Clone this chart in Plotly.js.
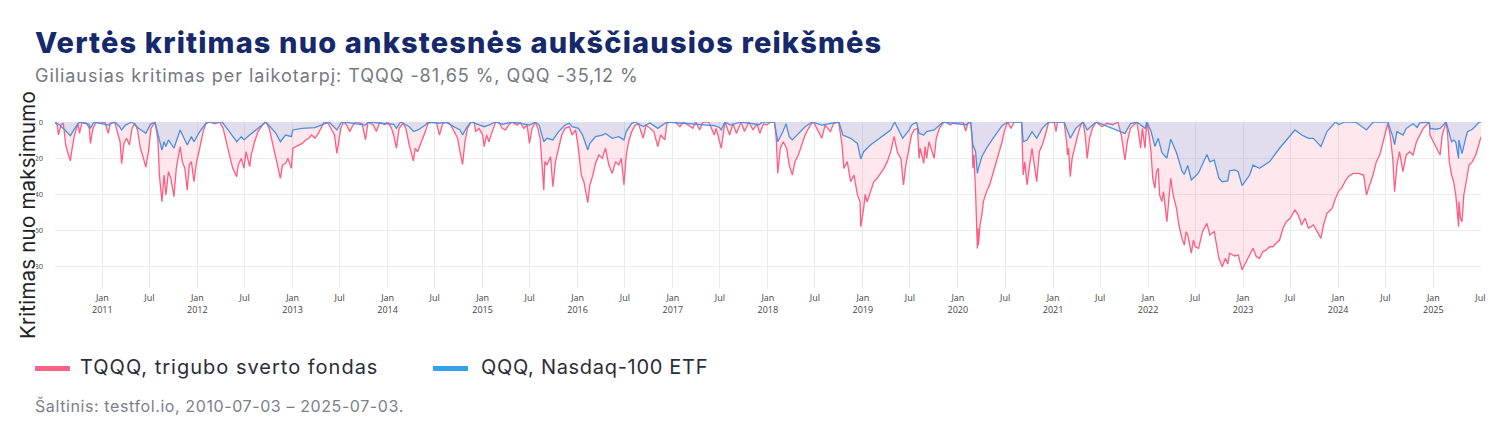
<!DOCTYPE html>
<html>
<head>
<meta charset="utf-8">
<script src="https://cdn.plot.ly/plotly-3.0.1.min.js"></script>
<style>
  body { margin: 0; background: #fff; font-family: Inter, 'Noto Sans', sans-serif; }
  #wrap { position: relative; width: 1500px; height: 438px; overflow: hidden; }
  .title { position: absolute; left: 35px; top: 25px; font-size: 29px; font-weight: 800; letter-spacing: 1.15px; color: #15296b; white-space: nowrap; }
  .subtitle { position: absolute; left: 35px; top: 65px; font-size: 18px; letter-spacing: 0.95px; color: #737884; white-space: nowrap; }
  .ytitle { position: absolute; left: 27px; top: 215px; transform: translate(-50%, -50%) rotate(-90deg); font-size: 20.5px; letter-spacing: 0.2px; color: #222; white-space: nowrap; }
  #chart { position: absolute; left: 36px; top: 110px; width: 1464px; height: 220px; }
  .legend { position: absolute; top: 355px; left: 35px; font-size: 20px; color: #2b2d3a; white-space: nowrap; }
  .legend span.item { position: absolute; top: 0; }
  .legend i { position: absolute; top: 11px; width: 35px; height: 5px; }
  .legend b { position: absolute; font-weight: 400; top: 0; }
  .source { position: absolute; left: 35px; top: 396px; font-size: 16px; letter-spacing: 0.6px; color: #7b808c; white-space: nowrap; }
</style>
</head>
<body>
<div id="wrap">
  <div class="title">Vertės kritimas nuo ankstesnės aukščiausios reikšmės</div>
  <div class="subtitle">Giliausias kritimas per laikotarpį: TQQQ -81,65 %, QQQ -35,12 %</div>
  <div class="ytitle">Kritimas nuo maksimumo</div>
  <div id="chart"></div>
  <div class="legend">
    <span class="item" style="left:0"><i style="left:0;background:#ff6384"></i><b style="left:45px;letter-spacing:1px">TQQQ, trigubo sverto fondas</b></span>
    <span class="item" style="left:398px"><i style="left:0;background:#36a2eb"></i><b style="left:48px;letter-spacing:0.7px">QQQ, Nasdaq-100 ETF</b></span>
  </div>
  <div class="source">Šaltinis: testfol.io, 2010-07-03 – 2025-07-03.</div>
</div>
<script>
// drawdown from previous high, %
const tqqqPoints = [
  ['2010-07-03', 0], ['2010-07-12', -2], ['2010-07-16', -7.2], ['2010-07-26', -1.7], ['2010-08-04', -0.7],
  ['2010-08-13', -12.7], ['2010-08-20', -16.4], ['2010-08-31', -21.5], ['2010-09-07', -14.5], ['2010-09-16', -7.2],
  ['2010-09-29', -0.7], ['2010-10-05', -6.3], ['2010-10-15', 0], ['2010-11-01', -0.7], ['2010-11-12', -3.5],
  ['2010-11-16', -11.8], ['2010-11-26', -3.5], ['2010-12-08', 0], ['2010-12-21', -0.7], ['2011-01-10', 0],
  ['2011-01-24', -6.3], ['2011-01-31', -0.7], ['2011-02-17', 0], ['2011-03-02', -7.2], ['2011-03-10', -10.9],
  ['2011-03-16', -23], ['2011-03-25', -11.8], ['2011-04-04', -9], ['2011-04-15', -12.7], ['2011-04-25', -3.5],
  ['2011-05-06', -0.7], ['2011-05-16', -4.4], ['2011-05-27', -14.5], ['2011-06-08', -20.1], ['2011-06-17', -25],
  ['2011-06-27', -16.4], ['2011-07-07', -3.5], ['2011-07-22', 0], ['2011-08-02', -9], ['2011-08-08', -29.3],
  ['2011-08-18', -44], ['2011-08-26', -29.3], ['2011-09-02', -40.3], ['2011-09-12', -27.4], ['2011-09-21', -31.1],
  ['2011-10-03', -41.3], ['2011-10-12', -25.6], ['2011-10-27', -13.6], ['2011-11-04', -21.9], ['2011-11-14', -25.6],
  ['2011-11-23', -37.6], ['2011-12-01', -23.8], ['2011-12-09', -21.9], ['2011-12-19', -33], ['2011-12-28', -22.8],
  ['2012-01-10', -14.5], ['2012-01-23', -5.3], ['2012-02-03', -0.7], ['2012-02-17', 0], ['2012-03-08', -1],
  ['2012-03-26', 0], ['2012-04-09', -3.5], ['2012-04-20', -10.9], ['2012-05-03', -18.2], ['2012-05-16', -25.6],
  ['2012-05-31', -30.2], ['2012-06-06', -23.8], ['2012-06-18', -20.1], ['2012-06-28', -25.6], ['2012-07-06', -16.4],
  ['2012-07-20', -24.7], ['2012-07-26', -18.2], ['2012-08-08', -10.9], ['2012-08-21', -5.3], ['2012-09-07', -1.7],
  ['2012-09-20', 0], ['2012-10-03', -3.5], ['2012-10-15', -10.9], ['2012-10-29', -20.1], ['2012-11-15', -31.1],
  ['2012-11-23', -23.8], ['2012-12-05', -22.8], ['2012-12-14', -20.1], ['2012-12-27', -25.6], ['2013-01-02', -14.5],
  ['2013-01-14', -13.6], ['2013-01-25', -12.7], ['2013-02-07', -11.8], ['2013-02-20', -9.9], ['2013-03-04', -9],
  ['2013-03-15', -7.2], ['2013-03-28', -9], ['2013-04-10', -6.3], ['2013-04-19', -3.5], ['2013-05-02', 0],
  ['2013-05-17', -0.7], ['2013-05-29', -3.5], ['2013-06-11', -7.2], ['2013-06-20', -17.3], ['2013-06-26', -10.9],
  ['2013-07-05', -3.5], ['2013-07-16', 0], ['2013-07-27', -1.5], ['2013-08-09', -5.3], ['2013-08-21', -1.7],
  ['2013-09-02', 0], ['2013-09-25', -1], ['2013-10-08', -9.9], ['2013-10-18', 0], ['2013-11-07', -1.7],
  ['2013-11-19', -5.3], ['2013-12-02', 0], ['2013-12-20', -1.5], ['2014-01-01', 0], ['2014-01-16', -3.5],
  ['2014-01-24', -7.2], ['2014-02-04', -14.5], ['2014-02-14', -3.5], ['2014-03-01', -0.7], ['2014-03-12', -3.5],
  ['2014-03-25', -12.7], ['2014-04-10', -21.5], ['2014-04-17', -14.5], ['2014-04-26', -16.4], ['2014-05-07', -12.7],
  ['2014-05-16', -9], ['2014-05-26', -5.3], ['2014-06-05', -0.7], ['2014-06-24', 0], ['2014-07-07', 0],
  ['2014-07-13', -3.5], ['2014-07-19', -7.2], ['2014-08-01', -0.7], ['2014-08-20', 0], ['2014-09-01', -1.7],
  ['2014-09-15', -5.3], ['2014-09-27', -9], ['2014-10-06', -16.4], ['2014-10-16', -23.4], ['2014-10-25', -10.9],
  ['2014-11-04', -3.5], ['2014-11-17', 0], ['2014-11-30', 0], ['2014-12-05', -5.3], ['2014-12-18', -3.5],
  ['2015-01-01', -7.2], ['2015-01-07', -13.6], ['2015-01-16', -7.2], ['2015-01-25', -10.9], ['2015-02-07', -5.3],
  ['2015-02-20', 0], ['2015-03-04', 0], ['2015-03-17', -3.5], ['2015-03-30', -4.4], ['2015-04-11', -1.7],
  ['2015-04-24', 0], ['2015-05-13', -1.7], ['2015-05-25', 0], ['2015-06-08', -3.5], ['2015-06-21', -1.7],
  ['2015-06-30', -11.8], ['2015-07-10', -3.5], ['2015-07-22', 0], ['2015-08-01', -3.5], ['2015-08-10', -9],
  ['2015-08-24', -37.6], ['2015-08-28', -21.9], ['2015-09-05', -23.8], ['2015-09-19', -19.2], ['2015-09-28', -35.7],
  ['2015-10-08', -21.9], ['2015-10-20', -14.5], ['2015-11-01', -7.2], ['2015-11-14', -3.5], ['2015-11-30', -2.6],
  ['2015-12-11', -7.2], ['2015-12-24', -4.4], ['2016-01-04', -14.5], ['2016-01-15', -29.3], ['2016-01-25', -33],
  ['2016-02-09', -44.6], ['2016-02-17', -34.8], ['2016-02-27', -30.2], ['2016-03-10', -22.8], ['2016-03-23', -18.2],
  ['2016-04-05', -20.1], ['2016-04-17', -14.5], ['2016-04-30', -23.8], ['2016-05-13', -28.4], ['2016-05-26', -21.9],
  ['2016-06-07', -23.8], ['2016-06-17', -20.1], ['2016-06-27', -34.8], ['2016-07-06', -18.2], ['2016-07-15', -10.9],
  ['2016-07-27', -5.3], ['2016-08-09', -1.7], ['2016-08-22', -1], ['2016-08-28', -3.5], ['2016-09-09', -9],
  ['2016-09-20', -1.7], ['2016-10-05', -3.5], ['2016-10-20', -5.3], ['2016-11-04', -13.6], ['2016-11-15', -7.2],
  ['2016-12-01', -9.9], ['2016-12-09', -0.7], ['2016-12-22', 0], ['2017-01-10', 0], ['2017-01-28', -2.6],
  ['2017-02-10', 0], ['2017-03-19', -3.5], ['2017-03-30', 0], ['2017-04-14', -4.4], ['2017-04-26', 0],
  ['2017-05-19', 0], ['2017-06-09', -7.2], ['2017-06-16', -3.5], ['2017-06-29', -10], ['2017-07-06', -14.5],
  ['2017-07-20', 0], ['2017-08-07', -7.2], ['2017-08-20', -1], ['2017-09-02', -6.3], ['2017-09-20', 0],
  ['2017-10-03', -5.3], ['2017-10-20', 0], ['2017-11-05', -4.4], ['2017-11-20', -1], ['2017-12-01', -6.3],
  ['2017-12-15', -1], ['2017-12-28', -1.7], ['2018-01-10', 0], ['2018-01-26', 0], ['2018-02-02', -9],
  ['2018-02-08', -28.4], ['2018-02-18', -14.5], ['2018-03-01', -10.9], ['2018-03-14', -14.5], ['2018-03-24', -23.8],
  ['2018-04-05', -29.3], ['2018-04-15', -21.9], ['2018-04-28', -18.2], ['2018-05-11', -12.7], ['2018-05-24', -7.2],
  ['2018-06-13', -1.7], ['2018-06-26', 0], ['2018-07-08', -3.5], ['2018-07-27', -9], ['2018-08-09', -1.7],
  ['2018-08-29', -5.3], ['2018-09-11', -0.7], ['2018-09-30', 0], ['2018-10-13', -12.7], ['2018-10-20', -25.6],
  ['2018-11-02', -21.9], ['2018-11-15', -33], ['2018-11-28', -29.3], ['2018-12-11', -40.3], ['2018-12-21', -44],
  ['2018-12-24', -57.8], ['2019-01-04', -47.7], ['2019-01-10', -40], ['2019-01-17', -44.2], ['2019-01-30', -38.5],
  ['2019-02-12', -33], ['2019-02-25', -31.1], ['2019-03-10', -28.4], ['2019-03-23', -25.6], ['2019-04-05', -21.9],
  ['2019-04-18', -16.4], ['2019-05-01', -8], ['2019-05-14', -17], ['2019-05-27', -20.1], ['2019-06-06', -34.8],
  ['2019-06-15', -23.8], ['2019-06-28', -14.5], ['2019-07-07', -7.2], ['2019-07-17', -4.4], ['2019-07-30', -3.5],
  ['2019-08-05', -20.1], ['2019-08-09', -14.5], ['2019-08-23', -22.8], ['2019-08-28', -13.6], ['2019-09-03', -20.1],
  ['2019-09-12', -10.9], ['2019-09-24', -16.4], ['2019-10-02', -20.1], ['2019-10-10', -9], ['2019-10-22', -3.5],
  ['2019-11-04', -0.7], ['2019-11-15', 0], ['2019-12-03', -1.7], ['2019-12-19', 0], ['2020-01-06', 0],
  ['2020-01-21', 0], ['2020-01-31', -5], ['2020-02-10', 0], ['2020-02-19', 0], ['2020-02-24', -7.2],
  ['2020-02-28', -25.6], ['2020-03-03', -18.2], ['2020-03-09', -38.5], ['2020-03-12', -51.4], ['2020-03-16', -69.8],
  ['2020-03-18', -58.7], ['2020-03-20', -68], ['2020-03-26', -56.9], ['2020-04-02', -51.4], ['2020-04-08', -44],
  ['2020-04-20', -38.5], ['2020-05-02', -34.8], ['2020-05-15', -28.4], ['2020-05-28', -21.9], ['2020-06-09', -16.4],
  ['2020-06-19', -10.9], ['2020-06-27', -5.3], ['2020-07-10', 0], ['2020-07-23', -3.5], ['2020-08-04', 0],
  ['2020-09-02', 0], ['2020-09-08', -29.3], ['2020-09-14', -22], ['2020-09-23', -34.8], ['2020-10-01', -25.6],
  ['2020-10-12', -14.5], ['2020-10-19', -22], ['2020-10-30', -33], ['2020-11-09', -16.4], ['2020-11-20', -12.7],
  ['2020-12-02', -7.2], ['2020-12-15', 0], ['2021-01-05', 0], ['2021-01-12', -5.3], ['2021-01-18', 0],
  ['2021-02-12', 0], ['2021-02-22', -10.9], ['2021-02-25', -18.2], ['2021-03-01', -14.5], ['2021-03-08', -30.2],
  ['2021-03-15', -20.1], ['2021-03-29', -10.9], ['2021-04-09', -5.3], ['2021-04-20', -0.7], ['2021-04-26', 0],
  ['2021-05-04', -7.2], ['2021-05-12', -20.1], ['2021-05-21', -9], ['2021-06-01', -3.5], ['2021-06-15', 0],
  ['2021-07-08', -2.6], ['2021-07-27', -0.7], ['2021-08-18', -1.5], ['2021-09-07', 0], ['2021-09-20', -7.2],
  ['2021-10-04', -21], ['2021-10-13', -10.9], ['2021-10-25', -3.5], ['2021-11-19', 0], ['2021-11-30', -10.9],
  ['2021-12-03', -14.5], ['2021-12-10', -3.5], ['2021-12-20', -14.5], ['2021-12-27', 0], ['2022-01-05', -7.2],
  ['2022-01-12', -16.4], ['2022-01-19', -31.1], ['2022-01-27', -36.6], ['2022-02-02', -27.4], ['2022-02-09', -25.6],
  ['2022-02-14', -40.3], ['2022-02-23', -44], ['2022-03-01', -38.5], ['2022-03-14', -55.1], ['2022-03-21', -42.2],
  ['2022-03-29', -31.1], ['2022-04-07', -40.3], ['2022-04-20', -47.7], ['2022-04-29', -56.9], ['2022-05-11', -64.3],
  ['2022-05-20', -68], ['2022-05-27', -60.6], ['2022-06-02', -62.4], ['2022-06-16', -72.5], ['2022-06-24', -65.2],
  ['2022-07-01', -68.9], ['2022-07-14', -69.8], ['2022-07-29', -60.6], ['2022-08-15', -56], ['2022-08-26', -62.4],
  ['2022-09-12', -60.6], ['2022-09-30', -75.3], ['2022-10-13', -79.9], ['2022-10-25', -75.3], ['2022-11-03', -78.5],
  ['2022-11-10', -72.5], ['2022-11-30', -74], ['2022-12-13', -73.5], ['2022-12-28', -81.65], ['2023-01-13', -77.2],
  ['2023-01-26', -73.5], ['2023-02-08', -69.8], ['2023-02-21', -74.4], ['2023-03-05', -75.3], ['2023-03-18', -71.6],
  ['2023-03-31', -70.7], ['2023-04-13', -68.9], ['2023-04-25', -68.9], ['2023-05-08', -67], ['2023-05-21', -65.2],
  ['2023-06-03', -58.7], ['2023-06-16', -55.1], ['2023-07-01', -53.2], ['2023-07-19', -48.6], ['2023-08-01', -51.4],
  ['2023-08-14', -56.9], ['2023-08-27', -53.2], ['2023-09-09', -58.7], ['2023-09-28', -56.9], ['2023-10-11', -60.6],
  ['2023-10-27', -64.3], ['2023-11-06', -56.9], ['2023-11-19', -50.5], ['2023-12-09', -47.7], ['2023-12-22', -42.2],
  ['2024-01-04', -38], ['2024-01-14', -36.6], ['2024-01-27', -33], ['2024-02-09', -30.2], ['2024-02-28', -28.4],
  ['2024-03-19', -28.4], ['2024-04-08', -29.3], ['2024-04-19', -40.3], ['2024-05-01', -34.8], ['2024-05-14', -29.3],
  ['2024-05-27', -21.9], ['2024-06-09', -18.2], ['2024-06-22', -10.9], ['2024-07-05', -3.5], ['2024-07-10', -0.7],
  ['2024-07-19', -7.2], ['2024-07-29', -20.1], ['2024-08-05', -38.5], ['2024-08-14', -23.8], ['2024-08-24', -16.4],
  ['2024-09-06', -27.4], ['2024-09-19', -18.2], ['2024-10-02', -16.4], ['2024-10-15', -18.2], ['2024-10-28', -10.9],
  ['2024-11-10', -7.2], ['2024-11-23', -3.5], ['2024-12-16', 0], ['2024-12-19', -7.2], ['2025-01-07', -12.7],
  ['2025-01-27', -18.2], ['2025-02-04', -7.2], ['2025-02-14', -1.7], ['2025-02-19', 0], ['2025-02-25', -7.2],
  ['2025-03-03', -21.9], ['2025-03-12', -29.3], ['2025-03-20', -33], ['2025-03-28', -40.3], ['2025-04-04', -51.4],
  ['2025-04-08', -57.8], ['2025-04-09', -44], ['2025-04-15', -53.2], ['2025-04-21', -55.1], ['2025-04-28', -40.3],
  ['2025-05-05', -34.8], ['2025-05-12', -29.3], ['2025-05-18', -23.8], ['2025-05-31', -21.9], ['2025-06-13', -18.2],
  ['2025-06-24', -12.7], ['2025-07-03', -8.1]
];

const qqqPoints = [
  ['2010-07-03', 0], ['2010-07-20', -1.7], ['2010-08-10', -4.4], ['2010-08-31', -7.5], ['2010-09-17', -3.5],
  ['2010-10-05', 0], ['2010-11-10', -1.3], ['2010-11-16', -3.5], ['2010-11-30', 0], ['2011-01-24', -1.7],
  ['2011-02-18', 0], ['2011-03-08', -2.6], ['2011-03-16', -4.4], ['2011-03-31', -1.7], ['2011-04-25', 0],
  ['2011-05-20', -3.5], ['2011-06-17', -6.3], ['2011-07-05', -1.3], ['2011-07-22', 0], ['2011-08-04', -7.2],
  ['2011-08-18', -15.5], ['2011-08-26', -10.9], ['2011-09-02', -13.6], ['2011-09-12', -9.9], ['2011-10-03', -14.5],
  ['2011-10-27', -4.4], ['2011-11-23', -12.7], ['2011-12-09', -8.1], ['2011-12-19', -10.9], ['2012-01-10', -5.3],
  ['2012-02-03', -0.7], ['2012-02-17', 0], ['2012-04-05', 0], ['2012-05-03', -5.3], ['2012-05-31', -10.9],
  ['2012-06-18', -8.1], ['2012-06-28', -9.9], ['2012-07-20', -7.2], ['2012-08-21', -3.5], ['2012-09-20', 0],
  ['2012-10-29', -6.3], ['2012-11-15', -10.9], ['2012-12-05', -7.2], ['2012-12-27', -8.1], ['2013-01-02', -4.4],
  ['2013-02-07', -3.5], ['2013-03-28', -3.1], ['2013-05-09', -0.7], ['2013-05-21', 0], ['2013-06-20', -4.4],
  ['2013-07-05', -0.7], ['2013-07-16', 0], ['2013-10-08', -1.7], ['2013-10-20', 0], ['2014-01-24', -1.3],
  ['2014-02-04', -3.5], ['2014-02-20', 0], ['2014-03-25', -2.6], ['2014-04-11', -5.3], ['2014-04-28', -4.4],
  ['2014-05-26', -1.7], ['2014-06-05', 0], ['2014-07-19', -0.7], ['2014-08-10', 0], ['2014-10-06', -4.4],
  ['2014-10-16', -7.2], ['2014-10-30', -3.5], ['2014-11-17', 0], ['2015-01-07', -2.6], ['2015-01-25', -1.7],
  ['2015-02-20', 0], ['2015-03-17', -1.3], ['2015-04-24', 0], ['2015-07-01', -1.7], ['2015-07-22', 0],
  ['2015-08-06', -1.7], ['2015-08-10', -3.5], ['2015-08-24', -10.9], ['2015-09-05', -9], ['2015-09-28', -9.9],
  ['2015-10-20', -5.3], ['2015-11-14', -1.7], ['2015-11-30', -0.7], ['2015-12-11', -2.6], ['2016-01-04', -3.5],
  ['2016-01-20', -7.2], ['2016-02-09', -15.5], ['2016-02-17', -11.8], ['2016-03-10', -8.1], ['2016-04-05', -7.2],
  ['2016-04-17', -6.3], ['2016-05-13', -9], ['2016-06-07', -8.1], ['2016-06-27', -9.9], ['2016-07-06', -5.3],
  ['2016-07-27', -0.7], ['2016-08-09', 0], ['2016-09-09', -2.5], ['2016-10-05', -0.5], ['2016-11-04', -3.5],
  ['2016-12-09', 0], ['2017-06-09', -2], ['2017-06-29', -3], ['2017-07-06', -4.4], ['2017-07-20', 0],
  ['2017-08-10', -1.7], ['2017-09-20', 0], ['2017-11-29', -1.5], ['2017-12-10', 0], ['2018-01-26', 0],
  ['2018-02-08', -10.9], ['2018-02-28', -5.3], ['2018-03-12', -1], ['2018-03-24', -8.1], ['2018-04-05', -9.9],
  ['2018-04-28', -6.3], ['2018-05-24', -2.6], ['2018-06-20', 0], ['2018-07-27', -1.7], ['2018-10-01', 0],
  ['2018-10-16', -7.2], ['2018-11-15', -9], ['2018-12-11', -11.8], ['2018-12-24', -20.5], ['2019-01-04', -16.4],
  ['2019-01-30', -12.7], ['2019-02-25', -9.9], ['2019-03-23', -7.2], ['2019-04-18', -4.4], ['2019-05-03', 0],
  ['2019-06-03', -9], ['2019-06-28', -4.4], ['2019-07-07', -1.7], ['2019-07-26', 0], ['2019-08-05', -6.3],
  ['2019-08-23', -7.2], ['2019-09-03', -5.3], ['2019-10-02', -4.4], ['2019-10-22', -1.7], ['2019-11-05', 0],
  ['2020-01-31', -1.5], ['2020-02-19', 0], ['2020-02-28', -12.7], ['2020-03-09', -16.4], ['2020-03-16', -28.4],
  ['2020-03-20', -25.6], ['2020-04-02', -19.2], ['2020-04-20', -14.5], ['2020-05-15', -9], ['2020-06-09', -4.4],
  ['2020-06-19', -2], ['2020-07-10', 0], ['2020-09-02', 0], ['2020-09-08', -10.9], ['2020-09-23', -10],
  ['2020-10-12', -5.3], ['2020-10-30', -9], ['2020-11-20', -3.5], ['2020-12-15', 0], ['2021-02-12', 0],
  ['2021-03-08', -9], ['2021-03-29', -3.5], ['2021-04-26', 0], ['2021-05-12', -4.4], ['2021-06-15', 0],
  ['2021-10-04', -6.3], ['2021-10-25', -1], ['2021-11-19', 0], ['2021-12-20', -3.5], ['2021-12-27', 0],
  ['2022-01-12', -5], ['2022-01-27', -13.5], ['2022-02-09', -9], ['2022-02-23', -17], ['2022-03-14', -20],
  ['2022-03-29', -9.5], ['2022-04-20', -17], ['2022-05-11', -27], ['2022-05-20', -29], ['2022-06-02', -24],
  ['2022-06-16', -32], ['2022-07-01', -30], ['2022-07-14', -28], ['2022-08-15', -18], ['2022-08-26', -22],
  ['2022-09-12', -21], ['2022-09-30', -31], ['2022-10-13', -33], ['2022-11-03', -32.5], ['2022-11-10', -27],
  ['2022-11-30', -26.5], ['2022-12-13', -27.5], ['2022-12-28', -35.12], ['2023-01-26', -29.3], ['2023-02-08', -23.8],
  ['2023-03-05', -25.6], ['2023-04-13', -21.9], ['2023-05-21', -14.5], ['2023-06-16', -9.9], ['2023-07-19', -4.4],
  ['2023-08-14', -7.2], ['2023-09-09', -9], ['2023-09-28', -9], ['2023-10-27', -13.6], ['2023-11-19', -5.3],
  ['2023-12-09', -1.7], ['2023-12-22', 0], ['2024-01-04', -1.5], ['2024-01-25', 0], ['2024-03-08', 0],
  ['2024-04-19', -4.4], ['2024-05-15', 0], ['2024-07-10', 0], ['2024-07-29', -8.1], ['2024-08-05', -12.5],
  ['2024-08-14', -5.3], ['2024-09-06', -7.2], ['2024-09-19', -3.5], ['2024-10-15', -1], ['2024-10-31', -3],
  ['2024-11-10', -0.5], ['2024-12-16', 0], ['2024-12-19', -3.5], ['2025-01-10', -4], ['2025-01-27', -3.5],
  ['2025-02-19', 0], ['2025-03-03', -6], ['2025-03-12', -11], ['2025-03-20', -10], ['2025-03-28', -11],
  ['2025-04-04', -17], ['2025-04-08', -20.1], ['2025-04-09', -10], ['2025-04-21', -17.5], ['2025-05-05', -9],
  ['2025-05-12', -5.3], ['2025-05-31', -4], ['2025-06-13', -2], ['2025-06-27', 0], ['2025-07-03', 0]
];

const dateRange = ['2010-07-03', '2025-07-03'];
const xTickDates = [
  '2011-01-01', '2011-07-01', '2012-01-01', '2012-07-01', '2013-01-01', '2013-07-01',
  '2014-01-01', '2014-07-01', '2015-01-01', '2015-07-01', '2016-01-01', '2016-07-01',
  '2017-01-01', '2017-07-01', '2018-01-01', '2018-07-01', '2019-01-01', '2019-07-01',
  '2020-01-01', '2020-07-01', '2021-01-01', '2021-07-01', '2022-01-01', '2022-07-01',
  '2023-01-01', '2023-07-01', '2024-01-01', '2024-07-01', '2025-01-01', '2025-07-01'
];
const xTickLabels = [
  'Jan<br>2011', 'Jul', 'Jan<br>2012', 'Jul', 'Jan<br>2013', 'Jul',
  'Jan<br>2014', 'Jul', 'Jan<br>2015', 'Jul', 'Jan<br>2016', 'Jul',
  'Jan<br>2017', 'Jul', 'Jan<br>2018', 'Jul', 'Jan<br>2019', 'Jul',
  'Jan<br>2020', 'Jul', 'Jan<br>2021', 'Jul', 'Jan<br>2022', 'Jul',
  'Jan<br>2023', 'Jul', 'Jan<br>2024', 'Jul', 'Jan<br>2025', 'Jul'
];
const yTicks = [0, -20, -40, -60, -80];

const traces = [
  {
    x: tqqqPoints.map(p => p[0]),
    y: tqqqPoints.map(p => p[1]),
    name: 'TQQQ, trigubo sverto fondas',
    mode: 'lines',
    fill: 'tozeroy',
    fillcolor: 'rgba(255,99,132,0.15)',
    line: { color: '#ff5c80', width: 1.3 },
  },
  {
    x: qqqPoints.map(p => p[0]),
    y: qqqPoints.map(p => p[1]),
    name: 'QQQ, Nasdaq-100 ETF',
    mode: 'lines',
    fill: 'tozeroy',
    fillcolor: 'rgba(54,162,235,0.15)',
    line: { color: '#4a90e2', width: 1.3 },
  },
];

Plotly.newPlot(
  'chart',
  traces,
  {
    width: 1464,
    height: 220,
    margin: { l: 19, r: 19, t: 12, b: 42 },
    paper_bgcolor: 'rgba(0,0,0,0)',
    plot_bgcolor: 'rgba(0,0,0,0)',
    showlegend: false,
    font: { family: 'Open Sans, sans-serif', color: '#444' },
    xaxis: {
      type: 'date',
      range: dateRange,
      tickmode: 'array',
      tickvals: xTickDates,
      ticktext: xTickLabels,
      showgrid: true,
      gridcolor: '#eaeaea',
      zeroline: false,
      showline: false,
      ticks: '',
      ticklabelstandoff: 3,
      tickfont: { size: 9, color: '#444' },
    },
    yaxis: {
      range: [-91.7, 0],
      tickvals: yTicks,
      ticksuffix: '%',
      showgrid: true,
      gridcolor: '#ececec',
      zeroline: false,
      showline: false,
      ticks: '',
      ticklabelstandoff: 11,
      tickfont: { size: 7.5, color: '#444' },
    },
  },
  { staticPlot: true, displayModeBar: false }
);
</script>
</body>
</html>
